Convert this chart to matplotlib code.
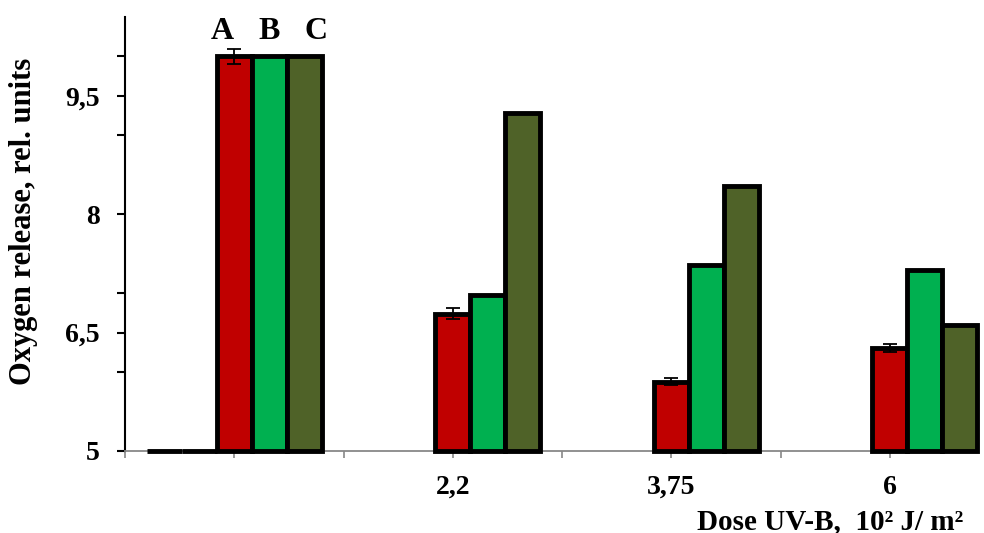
import numpy as np
import matplotlib.pyplot as plt

plt.rcParams['font.family'] = ['Liberation Serif', 'DejaVu Serif']
plt.rcParams['font.weight'] = 'bold'

# позиции на оси (слоты) и подписи доз
slots = [1, 3, 5, 7]
tick_labels = ['', '', '', '2,2', '', '3,75', '', '6']
series_names = ['A', 'B', 'C']
colors = ['#c00000', '#00b050', '#4f6228']

val_a = [10.0, 6.74, 5.88, 6.30]
val_b = [10.0, 6.98, 7.36, 7.29]
val_c = [10.0, 9.29, 8.36, 6.59]
err_a = [0.1, 0.07, 0.04, 0.05]

# пустые столбцы слева от контроля (нулевая высота)
ghost_slots = [1]
ghost_vals = [5.0]

base = 5.0
w = 0.32

fig = plt.figure(figsize=(9.84, 5.33), dpi=100)
ax = fig.add_axes([0.127, 0.154, 0.864, 0.814])

x = np.array(slots, dtype=float)
for i, (vals, c) in enumerate(zip([val_a, val_b, val_c], colors)):
    h = np.array(vals) - base
    ax.bar(x + i * w, h, w, bottom=base, color=c, edgecolor='black',
           linewidth=3.5, zorder=3, clip_on=False)

ax.errorbar(x, val_a, yerr=err_a, fmt='none', ecolor='black',
            elinewidth=1.3, capsize=5, capthick=1.3, zorder=4)

gx = np.array(ghost_slots, dtype=float)
for k in (2, 1):
    ax.bar(gx - k * w, np.array(ghost_vals) - base, w, bottom=base,
           color='white', edgecolor='black', linewidth=3.5, zorder=3,
           clip_on=False)

for i, name in enumerate(series_names):
    ax.text(x[0] + w + (i - 1) * 0.43, 10.22, name, ha='center', va='baseline',
            fontsize=23, fontweight='bold')

ax.set_xlim(0, 7.78)
ax.set_ylim(5, 10.5)
ax.set_yticks([5, 6.5, 8, 9.5])
ax.set_yticklabels(['5', '6,5', '8', '9,5'])
ax.set_yticks([6, 7, 9, 10], minor=True)
ax.set_xticks(range(len(tick_labels)))
ax.set_xticklabels(tick_labels)

ax.spines['top'].set_visible(False)
ax.spines['right'].set_visible(False)
ax.spines['left'].set_linewidth(1.5)
ax.spines['bottom'].set_color('#888888')
ax.spines['bottom'].set_linewidth(1.3)
ax.tick_params(axis='y', which='major', length=6, width=1.5, labelsize=20, pad=12)
ax.tick_params(axis='y', which='minor', length=6, width=1.5)
ax.tick_params(axis='x', length=5, width=1.2, color='#888888', labelsize=20, pad=12)

ax.set_ylabel('Oxygen release, rel. units', fontsize=22, fontweight='bold')
ax.yaxis.set_label_coords(-0.102, 0.528)
fig.text(0.979, 0.008, 'Dose UV-B,  10² J/ m²', ha='right', va='baseline',
         fontsize=21, fontweight='bold')

fig.savefig('out.png', dpi=100)
